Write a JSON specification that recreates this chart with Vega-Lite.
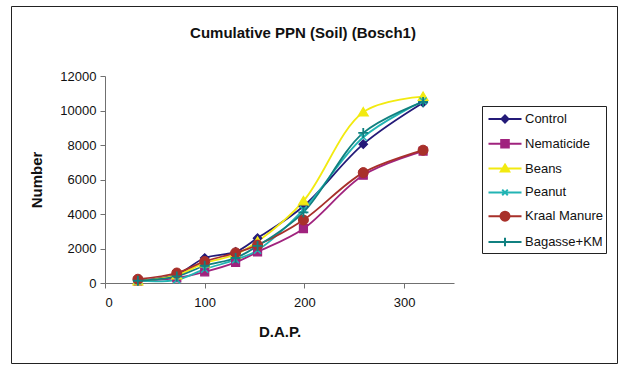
{
  "$schema": "https://vega.github.io/schema/vega-lite/v6.json",
  "width": 606,
  "height": 357,
  "autosize": {"type": "none"},
  "padding": {"left": 11, "top": 6, "right": 1, "bottom": 2},
  "background": "white",
  "title": {
    "text": "Cumulative PPN (Soil) (Bosch1)",
    "frame": "group",
    "anchor": "middle",
    "offset": -35,
    "dx": -11,
    "font": "Liberation Sans",
    "fontSize": 15,
    "fontWeight": "bold",
    "color": "#111111"
  },
  "config": {
    "view": {"stroke": "#222222", "strokeWidth": 1},
    "font": "Liberation Sans"
  },
  "data": {
    "values": [
      {"series": "Control", "dap": 33, "number": 150},
      {"series": "Control", "dap": 72, "number": 500},
      {"series": "Control", "dap": 100, "number": 1450},
      {"series": "Control", "dap": 131, "number": 1800},
      {"series": "Control", "dap": 153, "number": 2600},
      {"series": "Control", "dap": 199, "number": 4450},
      {"series": "Control", "dap": 259, "number": 8050},
      {"series": "Control", "dap": 319, "number": 10450},
      {"series": "Nematicide", "dap": 33, "number": 100},
      {"series": "Nematicide", "dap": 72, "number": 300},
      {"series": "Nematicide", "dap": 100, "number": 650},
      {"series": "Nematicide", "dap": 131, "number": 1200},
      {"series": "Nematicide", "dap": 153, "number": 1800},
      {"series": "Nematicide", "dap": 199, "number": 3150},
      {"series": "Nematicide", "dap": 259, "number": 6250},
      {"series": "Nematicide", "dap": 319, "number": 7650},
      {"series": "Beans", "dap": 33, "number": 100},
      {"series": "Beans", "dap": 72, "number": 450},
      {"series": "Beans", "dap": 100, "number": 1150},
      {"series": "Beans", "dap": 131, "number": 1650},
      {"series": "Beans", "dap": 153, "number": 2400},
      {"series": "Beans", "dap": 199, "number": 4750},
      {"series": "Beans", "dap": 259, "number": 9900},
      {"series": "Beans", "dap": 319, "number": 10800},
      {"series": "Peanut", "dap": 33, "number": 120},
      {"series": "Peanut", "dap": 72, "number": 180},
      {"series": "Peanut", "dap": 100, "number": 800},
      {"series": "Peanut", "dap": 131, "number": 1350},
      {"series": "Peanut", "dap": 153, "number": 1900},
      {"series": "Peanut", "dap": 199, "number": 4250},
      {"series": "Peanut", "dap": 259, "number": 8450},
      {"series": "Peanut", "dap": 319, "number": 10550},
      {"series": "Kraal Manure", "dap": 33, "number": 220},
      {"series": "Kraal Manure", "dap": 72, "number": 580},
      {"series": "Kraal Manure", "dap": 100, "number": 1250},
      {"series": "Kraal Manure", "dap": 131, "number": 1750},
      {"series": "Kraal Manure", "dap": 153, "number": 2200},
      {"series": "Kraal Manure", "dap": 199, "number": 3650},
      {"series": "Kraal Manure", "dap": 259, "number": 6400},
      {"series": "Kraal Manure", "dap": 319, "number": 7700},
      {"series": "Bagasse+KM", "dap": 33, "number": 130},
      {"series": "Bagasse+KM", "dap": 72, "number": 380},
      {"series": "Bagasse+KM", "dap": 100, "number": 1000},
      {"series": "Bagasse+KM", "dap": 131, "number": 1450},
      {"series": "Bagasse+KM", "dap": 153, "number": 2150},
      {"series": "Bagasse+KM", "dap": 199, "number": 4100},
      {"series": "Bagasse+KM", "dap": 259, "number": 8700},
      {"series": "Bagasse+KM", "dap": 319, "number": 10500}
    ]
  },
  "encoding": {
    "x": {"field": "dap", "type": "quantitative"},
    "y": {"field": "number", "type": "quantitative"}
  },
  "layer": [
    {
      "mark": {"type": "line", "interpolate": "catmull-rom", "strokeWidth": 1.8, "clip": false},
      "encoding": {
        "x": {
          "field": "dap",
          "type": "quantitative",
          "scale": {"domain": [0, 350], "range": [94, 443], "nice": false, "zero": false},
          "axis": {
            "title": "D.A.P.",
            "offset": -80,
            "values": [0, 100, 200, 300],
            "grid": false,
            "tickSize": 5,
            "domainColor": "#707070",
            "tickColor": "#707070",
            "labelColor": "#111111",
            "labelFontSize": 13,
            "labelPadding": 8,
            "titleFontSize": 15,
            "titleFontWeight": "bold",
            "titleColor": "#111111",
            "titlePadding": 15
          }
        },
        "y": {
          "field": "number",
          "type": "quantitative",
          "scale": {"domain": [0, 12000], "range": [277, 70], "nice": false, "zero": false},
          "axis": {
            "title": "Number",
            "offset": -94,
            "values": [0, 2000, 4000, 6000, 8000, 10000, 12000],
            "format": "d",
            "grid": false,
            "tickSize": 5,
            "domainColor": "#707070",
            "tickColor": "#707070",
            "labelColor": "#111111",
            "labelFontSize": 13,
            "labelPadding": 4,
            "titleFontSize": 15,
            "titleFontWeight": "bold",
            "titleColor": "#111111",
            "titlePadding": 15
          }
        },
        "color": {
          "field": "series",
          "type": "nominal",
          "scale": {
            "domain": ["Control", "Nematicide", "Beans", "Peanut", "Kraal Manure", "Bagasse+KM"],
            "range": ["#241a78", "#a0237e", "#f2ea10", "#22b4b4", "#a8302a", "#108080"]
          },
          "legend": {
            "title": null,
            "orient": "none",
            "legendX": 471,
            "legendY": 100,
            "strokeColor": "#222222",
            "padding": 2,
            "rowPadding": 5.8,
            "symbolSize": 400,
            "symbolOffset": 10,
            "labelOffset": 9,
            "labelFontSize": 13,
            "labelColor": "#111111",
            "labelFont": "Liberation Sans",
            "encode": {
              "symbols": {
                "update": {
                  "shape": {
                    "signal": "datum.value == 'Control' ? 'M-1.65,0L1.65,0M-0.35,0L0,-0.35L0.35,0L0,0.35Z' : datum.value == 'Nematicide' ? 'M-1.65,0L1.65,0M-0.38,-0.38L0.38,-0.38L0.38,0.38L-0.38,0.38Z' : datum.value == 'Beans' ? 'M-1.65,0L1.65,0M0,-0.4L0.42,0.28L-0.42,0.28Z' : datum.value == 'Peanut' ? 'M-1.65,0L1.65,0M-0.28,-0.28L0.28,0.28M-0.28,0.28L0.28,-0.28' : datum.value == 'Kraal Manure' ? 'M-1.65,0L1.65,0M-0.45,0A0.45,0.45 0 1,0 0.45,0A0.45,0.45 0 1,0 -0.45,0Z' : 'M-1.65,0L1.65,0M0,-0.42L0,0.42'"
                  },
                  "fill": {"signal": "scale('color', datum.value)"},
                  "stroke": {"signal": "scale('color', datum.value)"},
                  "strokeWidth": {"value": 2},
                  "opacity": {"value": 1}
                }
              }
            }
          }
        }
      }
    },
    {
      "transform": [{"filter": "datum.series == 'Control'"}],
      "mark": {"type": "point", "shape": "M-0.85,0L0,-0.85L0.85,0L0,0.85Z", "filled": true, "size": 100, "color": "#241a78", "stroke": "#241a78", "strokeWidth": 1.2, "opacity": 1, "clip": false}
    },
    {
      "transform": [{"filter": "datum.series == 'Nematicide'"}],
      "mark": {"type": "point", "shape": "M-0.8,-0.8L0.8,-0.8L0.8,0.8L-0.8,0.8Z", "filled": true, "size": 100, "color": "#a0237e", "stroke": "#a0237e", "strokeWidth": 1.2, "opacity": 1, "clip": false}
    },
    {
      "transform": [{"filter": "datum.series == 'Beans'"}],
      "mark": {"type": "point", "shape": "M0,-0.95L1,0.75L-1,0.75Z", "filled": true, "size": 100, "color": "#f2ea10", "stroke": "#f2ea10", "strokeWidth": 1.2, "opacity": 1, "clip": false}
    },
    {
      "transform": [{"filter": "datum.series == 'Peanut'"}],
      "mark": {"type": "point", "shape": "M-0.7,-0.7L0.7,0.7M-0.7,0.7L0.7,-0.7", "filled": true, "size": 100, "color": "#22b4b4", "stroke": "#22b4b4", "strokeWidth": 1.6, "opacity": 1, "clip": false}
    },
    {
      "transform": [{"filter": "datum.series == 'Kraal Manure'"}],
      "mark": {"type": "point", "shape": "M-1,0A1,1 0 1,0 1,0A1,1 0 1,0 -1,0Z", "filled": true, "size": 100, "color": "#a8302a", "stroke": "#a8302a", "strokeWidth": 1, "opacity": 1, "clip": false}
    },
    {
      "transform": [{"filter": "datum.series == 'Bagasse+KM'"}],
      "mark": {"type": "point", "shape": "M-1,0L1,0M0,-1L0,1", "filled": true, "size": 100, "color": "#108080", "stroke": "#108080", "strokeWidth": 1.8, "opacity": 1, "clip": false}
    }
  ]
}
